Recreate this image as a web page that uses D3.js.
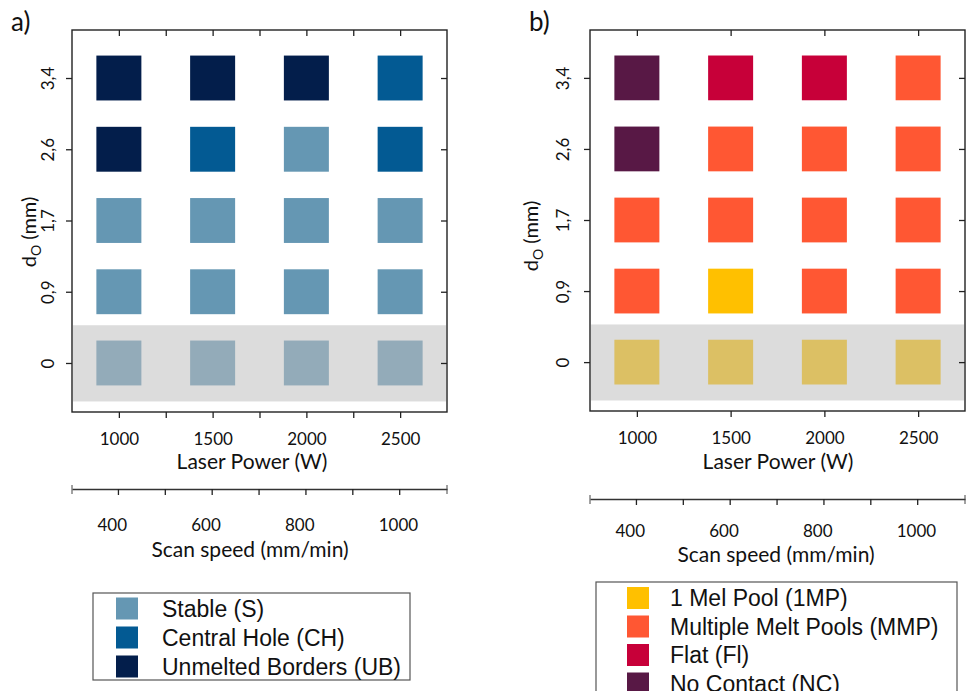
<!DOCTYPE html>
<html>
<head>
<meta charset="utf-8">
<script src="https://cdn.jsdelivr.net/npm/d3@7"></script>
<style>
  body { margin: 0; background: #fff; }
  text { fill: #111; }
</style>
</head>
<body>
<div id="chart"></div>
<script>
var width = 968;
var height = 691;

// Data
var laserPower = [1000, 1500, 2000, 2500];
var overlap = ["0", "0,9", "1,7", "2,6", "3,4"];   // bottom to top
var scanSpeedTicks = [400, 500, 600, 700, 800, 900, 1000];
var scanSpeedLabels = [400, 600, 800, 1000];

// states per row (bottom to top), columns = laserPower
var statesA = [
    ["S0", "S0", "S0", "S0"],
    ["S", "S", "S", "S"],
    ["S", "S", "S", "S"],
    ["UB", "CH", "S", "CH"],
    ["UB", "UB", "UB", "CH"]
];
var statesB = [
    ["B0", "B0", "B0", "B0"],
    ["MMP", "1MP", "MMP", "MMP"],
    ["MMP", "MMP", "MMP", "MMP"],
    ["NC", "MMP", "MMP", "MMP"],
    ["NC", "Fl", "Fl", "MMP"]
];

var legendA = [
    {key: "S", label: "Stable (S)"},
    {key: "CH", label: "Central Hole (CH)"},
    {key: "UB", label: "Unmelted Borders (UB)"}
];
var legendB = [
    {key: "1MP", label: "1 Mel Pool (1MP)"},
    {key: "MMP", label: "Multiple Melt Pools (MMP)"},
    {key: "Fl", label: "Flat (Fl)"},
    {key: "NC", label: "No Contact (NC)"}
];

var colors = {
    S: "#6597b3", CH: "#035a93", UB: "#031e4b", S0: "#93abb9",
    "1MP": "#ffc000", MMP: "#ff5733", Fl: "#c70039", NC: "#581845", B0: "#dcc064"
};

var svg = d3.select("#chart")
    .append("svg")
    .attr("width", width)
    .attr("height", height);

var axisFont = "Lato, 'Open Sans', sans-serif";

function drawPanel(cfg) {
    var g = svg.append("g");

    var x = d3.scaleLinear().domain([750, 2750]).range([cfg.left, cfg.left + 375]);
    var y = d3.scaleLinear().domain([-0.688, 4.674]).range([cfg.bottom, 30]);

    // gray band for the 0 row
    g.append("rect")
        .attr("x", cfg.left + 1)
        .attr("y", y(0.53))
        .attr("width", 373)
        .attr("height", y(-0.54) - y(0.53))
        .attr("fill", "#dcdcdc");

    // squares
    cfg.states.forEach(function(row, ri) {
        row.forEach(function(st, ci) {
            var p = laserPower[ci];
            g.append("rect")
                .attr("x", x(p - 120))
                .attr("y", y(ri + 0.315))
                .attr("width", x(p + 120) - x(p - 120))
                .attr("height", y(ri - 0.315) - y(ri + 0.315))
                .attr("fill", colors[st]);
        });
    });

    var idx = d3.range(overlap.length);

    // top ticks (inside)
    g.append("g")
        .attr("transform", "translate(0,30)")
        .call(d3.axisBottom(x).tickValues(cfg.minorTicks).tickSize(6).tickSizeOuter(0).tickFormat(""));
    // right ticks (inside)
    g.append("g")
        .attr("transform", "translate(" + (cfg.left + 375) + ",0)")
        .call(d3.axisLeft(y).tickValues(idx).tickSize(6).tickSizeOuter(0).tickFormat(""));
    // bottom axis
    var bottomAxis = g.append("g")
        .attr("transform", "translate(0," + cfg.bottom + ")")
        .call(d3.axisBottom(x).tickValues(cfg.minorTicks).tickSize(6).tickSizeOuter(0)
            .tickFormat(function(d) { return d % 500 === 0 ? d : ""; }));
    bottomAxis.selectAll("text").attr("y", 33).attr("dy", 0).attr("font-size", "17px");
    // left axis
    var leftAxis = g.append("g")
        .attr("transform", "translate(" + cfg.left + ",0)")
        .call(d3.axisLeft(y).tickValues(idx).tickSize(6).tickSizeOuter(0)
            .tickFormat(function(i) { return overlap[i]; }));
    leftAxis.selectAll("text")
        .attr("transform", "rotate(-90)")
        .attr("text-anchor", "middle")
        .attr("x", 0)
        .attr("y", -cfg.ylabOff)
        .attr("dy", 0)
        .attr("font-size", "17px");

    g.selectAll(".domain").attr("stroke", "none");
    g.selectAll(".tick line").attr("stroke", "#222").attr("stroke-width", 1.3);
    g.selectAll(".tick text").attr("font-family", axisFont).attr("fill", "#111");

    // frame
    g.append("rect")
        .attr("x", cfg.left)
        .attr("y", 30)
        .attr("width", 375)
        .attr("height", cfg.bottom - 30)
        .attr("fill", "none")
        .attr("stroke", "#222")
        .attr("stroke-width", 1.4);

    // axis titles
    g.append("text")
        .attr("x", cfg.left + 188 + cfg.xTitleShift)
        .attr("y", 469)
        .attr("text-anchor", "middle")
        .attr("font-family", axisFont)
        .attr("font-size", "21px")
        .text(cfg.xTitle);

    var yt = g.append("text")
        .attr("transform", "translate(" + cfg.yTitleX + "," + cfg.yTitleY + ") rotate(-90)")
        .attr("text-anchor", "middle")
        .attr("font-family", axisFont)
        .attr("font-size", "20px");
    yt.append("tspan").text("d");
    yt.append("tspan").attr("font-size", "14px").attr("dy", 5).text("O");
    yt.append("tspan").attr("dy", -5).text(cfg.yTitleRest);

    // scan speed axis
    var s = d3.scaleLinear().domain([302, 1102]).range([cfg.left, cfg.left + 375]);
    var sAxis = g.append("g")
        .attr("transform", "translate(0," + cfg.scanY + ")")
        .call(d3.axisBottom(s).tickValues(scanSpeedTicks).tickSize(6).tickSizeOuter(0)
            .tickFormat(function(d) { return scanSpeedLabels.indexOf(d) >= 0 ? d : ""; }));
    sAxis.select(".domain").attr("stroke", "#333").attr("stroke-width", 1.3);
    sAxis.selectAll(".tick line").attr("stroke", "#222").attr("stroke-width", 1.3);
    sAxis.selectAll("text")
        .attr("text-anchor", "start")
        .attr("x", -21)
        .attr("y", cfg.scanLabOff)
        .attr("dy", 0)
        .attr("font-family", axisFont)
        .attr("font-size", "17px")
        .attr("fill", "#111");
    // end marks
    [cfg.left, cfg.left + 375].forEach(function(ex) {
        g.append("line")
            .attr("x1", ex).attr("x2", ex)
            .attr("y1", cfg.scanY - 4).attr("y2", cfg.scanY + 5)
            .attr("stroke", "#444").attr("stroke-width", 1);
    });
    g.append("text")
        .attr("x", cfg.left + 186 + cfg.xTitleShift)
        .attr("y", cfg.scanY + cfg.scanTitleOff)
        .attr("text-anchor", "middle")
        .attr("font-family", axisFont)
        .attr("font-size", "21px")
        .text("Scan speed (mm/min)");

    // panel letter
    g.append("text")
        .attr("x", cfg.letterX)
        .attr("y", 31)
        .attr("font-family", axisFont)
        .attr("font-size", "26px")
        .text(cfg.letter);

    // legend
    var lg = cfg.legend;
    g.append("rect")
        .attr("x", lg.x).attr("y", lg.y)
        .attr("width", lg.w).attr("height", lg.h)
        .attr("fill", "#fff")
        .attr("stroke", "#555")
        .attr("stroke-width", 1.2);
    cfg.legendItems.forEach(function(item, i) {
        var cy = lg.firstY + i * lg.step;
        g.append("rect")
            .attr("x", lg.x + lg.swOff)
            .attr("y", cy - 11)
            .attr("width", 22)
            .attr("height", 22)
            .attr("fill", colors[item.key]);
        g.append("text")
            .attr("x", lg.x + lg.txtOff)
            .attr("y", cy + 8)
            .attr("font-family", "'Liberation Sans', Arial, sans-serif")
            .attr("font-size", "23px")
            .text(item.label);
    });
}

drawPanel({
    left: 72, bottom: 412, states: statesA,
    minorTicks: [1000, 1250, 1500, 1750, 2000, 2250, 2500],
    ylabOff: 18, xTitle: "Laser Power (W)", xTitleShift: -8,
    yTitleX: 36, yTitleY: 232, yTitleRest: "  (mm)",
    scanY: 489, scanLabOff: 42, scanTitleOff: 68,
    letter: "a)", letterX: 11,
    legend: {x: 93, y: 593, w: 317, h: 87, firstY: 608.5, step: 29, swOff: 23, txtOff: 69},
    legendItems: legendA
});

drawPanel({
    left: 590, bottom: 411, states: statesB,
    minorTicks: [1000, 1500, 2000, 2500],
    ylabOff: 21, xTitle: "Laser Power  (W)", xTitleShift: 0,
    yTitleX: 538, yTitleY: 236, yTitleRest: " (mm)",
    scanY: 499, scanLabOff: 38, scanTitleOff: 63,
    letter: "b)", letterX: 529,
    legend: {x: 596, y: 582, w: 361, h: 130, firstY: 598, step: 28.5, swOff: 31, txtOff: 74},
    legendItems: legendB
});
</script>
</body>
</html>
